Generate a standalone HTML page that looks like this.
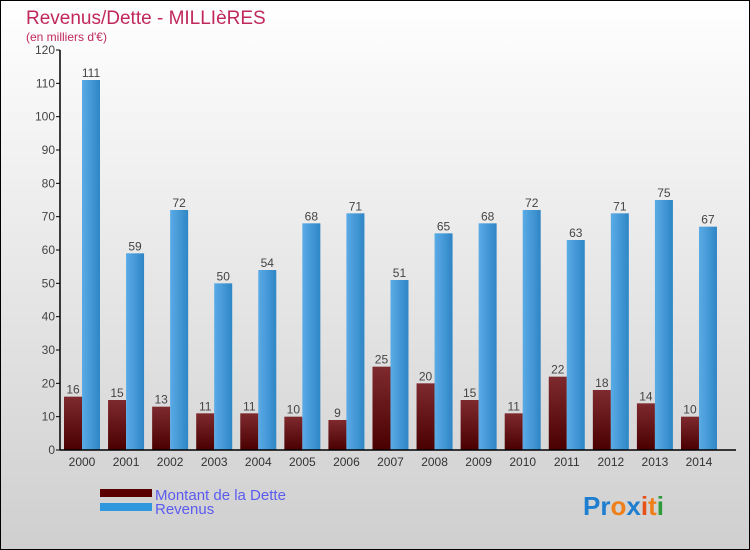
<!DOCTYPE html>
<html><head><meta charset="utf-8"><style>
body{margin:0;width:750px;height:550px;overflow:hidden;font-family:"Liberation Sans",sans-serif}
svg{display:block}
</style></head><body>
<svg id="c" width="750" height="550" xmlns="http://www.w3.org/2000/svg">
<defs>
<linearGradient id="bg" x1="0" y1="0" x2="0" y2="1"><stop offset="0" stop-color="#ffffff"/><stop offset="1" stop-color="#cfcfcf"/></linearGradient>
<linearGradient id="gd" x1="0" y1="0" x2="0" y2="1"><stop offset="0" stop-color="#7e2a2e"/><stop offset="1" stop-color="#4a0000"/></linearGradient>
<linearGradient id="gr" x1="0" y1="0" x2="1" y2="0"><stop offset="0" stop-color="#5aabe6"/><stop offset="1" stop-color="#2f86c5"/></linearGradient>
</defs>
<rect x="0.5" y="0.5" width="749" height="549" fill="url(#bg)" stroke="#000"/>
<text x="26" y="24" font-size="19" fill="#c0285c">Revenus/Dette - MILLIèRES</text>
<text x="26" y="41" font-size="12" fill="#c0285c">(en milliers d'€)</text>
<g id="plot"></g>
<rect x="100" y="489" width="52" height="8" fill="#5a0000"/>
<rect x="100" y="503" width="52" height="8" fill="#2f97de"/>
<text x="155" y="500" font-size="15" fill="#5b5bf0">Montant de la Dette</text>
<text x="155" y="514" font-size="15" fill="#5b5bf0">Revenus</text>
<text x="583" y="515" font-size="26" font-weight="bold"><tspan fill="#1e7fd0">Pr</tspan><tspan fill="#ef7f1a">o</tspan><tspan fill="#1e7fd0">x</tspan><tspan fill="#e8501a">i</tspan><tspan fill="#ef7f1a">t</tspan><tspan fill="#2e9a3a">i</tspan></text>
</svg>
<script>
const years=["2000","2001","2002","2003","2004","2005","2006","2007","2008","2009","2010","2011","2012","2013","2014"];
const dette=[16,15,13,11,11,10,9,25,20,15,11,22,18,14,10];
const revenus=[111,59,72,50,54,68,71,51,65,68,72,63,71,75,67];
const yTicks=[0,10,20,30,40,50,60,70,80,90,100,110,120];
const NS="http://www.w3.org/2000/svg";
const g=document.getElementById('plot');
const x0=60,y0=450,ymax=120,ph=400,step=44.07,bw=18;
const yS=v=>y0-v/ymax*ph;
const xC=i=>82+i*step;
function mk(t,a){const e=document.createElementNS(NS,t);for(const k in a)e.setAttribute(k,a[k]);g.appendChild(e);return e;}
yTicks.forEach(v=>{
 const l=mk('line',{x1:x0-4,x2:x0,y1:yS(v),y2:yS(v),stroke:'#000'});
 
 
 const t=mk('text',{x:x0-5,y:yS(v)+4,'font-size':12,'text-anchor':'end',fill:'#444'});
 t.textContent=v;
 
 
});
years.forEach((y,i)=>{
 const c=xC(i);
 const d=mk('rect',{x:c-bw,y:yS(dette[i]),width:bw,height:y0-yS(dette[i]),fill:'url(#gd)'});
 
 
 const r=mk('rect',{x:c,y:yS(revenus[i]),width:bw,height:y0-yS(revenus[i]),fill:'url(#gr)'});
 
 
 const td=mk('text',{x:c-bw/2,y:yS(dette[i])-3,'font-size':12,'text-anchor':'middle',fill:'#444'});
 td.textContent=dette[i];
 
 
 const tr=mk('text',{x:c+bw/2,y:yS(revenus[i])-3,'font-size':12,'text-anchor':'middle',fill:'#444'});
 tr.textContent=revenus[i];
 
 
 const ty=mk('text',{x:c,y:466,'font-size':12,'text-anchor':'middle',fill:'#333'});
 ty.textContent=y;
 
 
});
const ya=mk('line',{x1:x0,x2:x0,y1:50,y2:y0,stroke:'#000','stroke-width':1.5});


const xa=mk('line',{x1:x0,x2:736,y1:y0,y2:y0,stroke:'#000','stroke-width':1.5});


</script>
</body></html>
